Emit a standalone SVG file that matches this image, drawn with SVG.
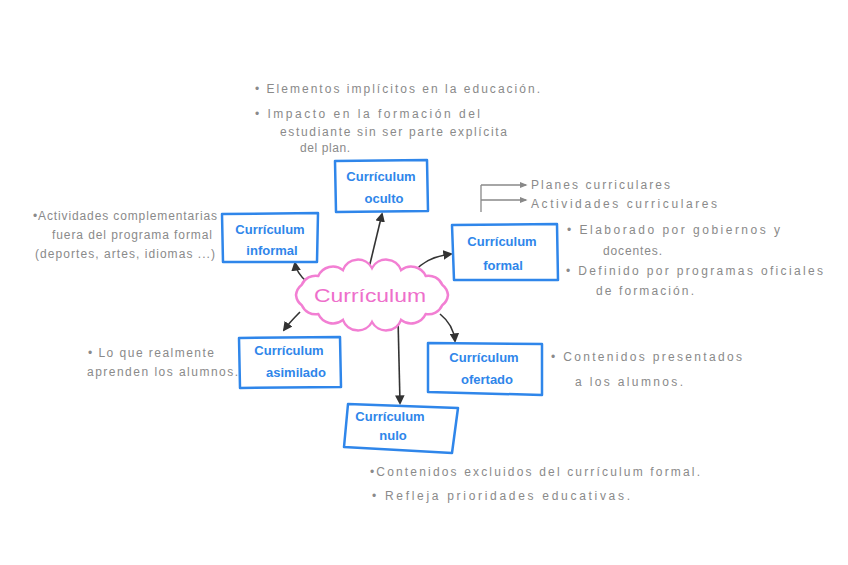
<svg xmlns="http://www.w3.org/2000/svg" width="848" height="565" viewBox="0 0 848 565">
<defs>
<marker id="ah" viewBox="0 0 10 10" refX="8" refY="5" markerWidth="6" markerHeight="6" orient="auto-start-reverse"><path d="M0,0 L10,5 L0,10 z" fill="#333"/></marker>
<marker id="ahg" viewBox="0 0 10 10" refX="8" refY="5" markerWidth="6" markerHeight="6" orient="auto"><path d="M0,1 L10,5 L0,9 z" fill="#888"/></marker>
<style>
.box{fill:#fff;stroke:#2f86ea;stroke-width:2.5;stroke-linejoin:round}
.lbl{font-family:"Liberation Sans",Arial,sans-serif;font-size:13px;font-weight:bold;fill:#2f86ea;text-anchor:middle}
.note{font-family:"Liberation Sans",Arial,sans-serif;font-size:12px;fill:#8a8a8a}
.con{fill:none;stroke:#333;stroke-width:1.6;marker-end:url(#ah)}
.br{fill:none;stroke:#888;stroke-width:1.3}
</style>
</defs>
<rect width="848" height="565" fill="#fff"/>

<g id="connectors">
<path class="con" d="M369,268 L382,214"/>
<path class="con" d="M307,282 C300,276 296,270 295,263"/>
<path class="con" d="M414,272 C422,262 435,256 451,254"/>
<path class="con" d="M300,312 C294,318 289,323 284,330"/>
<path class="con" d="M398,318 L400,403"/>
<path class="con" d="M440,314 C450,322 454,330 455,341"/>
<path class="br" d="M481,212 L481,185"/>
<path class="br" d="M481,185 L526,185" marker-end="url(#ahg)"/>
<path class="br" d="M481,200 L526,200" marker-end="url(#ahg)"/>
</g>

<g id="curriculum">
<path d="M296,295 A15,15 0 0 1 301.8,284.7 A15,15 0 0 1 318.3,275.9 A16,16 0 0 1 342.9,270.1 A16,16 0 0 1 372,268 A16,16 0 0 1 401.1,270.1 A16,16 0 0 1 425.7,275.9 A15,15 0 0 1 442.2,284.7 A15,15 0 0 1 448,295 A15,15 0 0 1 442.2,305.3 A15,15 0 0 1 425.7,314.1 A16,16 0 0 1 401.1,319.9 A16,16 0 0 1 372,322 A16,16 0 0 1 342.9,319.9 A16,16 0 0 1 318.3,314.1 A15,15 0 0 1 301.8,305.3 A15,15 0 0 1 296,295 Z" fill="#fff" stroke="#f27fd3" stroke-width="2.5"/>
<text x="370" y="302" font-family="Liberation Sans,Arial,sans-serif" font-size="19" fill="#ee6fcb" text-anchor="middle" textLength="112" lengthAdjust="spacingAndGlyphs">Currículum</text>
</g>

<g id="oculto">
<path class="box" d="M335,161 L427,160 L428,211 L336,212 Z"/>
<text class="lbl" x="381" y="181">Currículum</text>
<text class="lbl" x="384" y="203">oculto</text>
</g>

<g id="informal">
<path class="box" d="M222,214 L318,213 L317,262 L223,262 Z"/>
<text class="lbl" x="270" y="234">Currículum</text>
<text class="lbl" x="272" y="255">informal</text>
</g>

<g id="formal">
<path class="box" d="M452,225 L557,224 L558,280 L454,280 Z"/>
<text class="lbl" x="502" y="246">Currículum</text>
<text class="lbl" x="503" y="270">formal</text>
</g>

<g id="asimilado">
<path class="box" d="M239,338 L340,337 L341,387 L240,388 Z"/>
<text class="lbl" x="289" y="355">Currículum</text>
<text class="lbl" x="296" y="377">asimilado</text>
</g>

<g id="ofertado">
<path class="box" d="M428,343 L542,344 L542,395 L428,392 Z"/>
<text class="lbl" x="484" y="362">Currículum</text>
<text class="lbl" x="487" y="384">ofertado</text>
</g>

<g id="nulo">
<path class="box" d="M348,404 L458,408 L452,453 L344,447 Z"/>
<text class="lbl" x="390" y="421">Currículum</text>
<text class="lbl" x="393" y="440">nulo</text>
</g>

<g id="notes">
<text class="note" x="255" y="93" textLength="285" lengthAdjust="spacing">• Elementos implícitos en la educación.</text>
<text class="note" x="255" y="118" textLength="225" lengthAdjust="spacing">• Impacto en la formación del</text>
<text class="note" x="280" y="136" textLength="227" lengthAdjust="spacing">estudiante sin ser parte explícita</text>
<text class="note" x="300" y="152" textLength="50" lengthAdjust="spacing">del plan.</text>

<text class="note" x="33" y="220" textLength="184" lengthAdjust="spacing">•Actividades complementarias</text>
<text class="note" x="52" y="239" textLength="160" lengthAdjust="spacing">fuera del programa formal</text>
<text class="note" x="35" y="258" textLength="180" lengthAdjust="spacing">(deportes, artes, idiomas ...)</text>

<text class="note" x="531" y="189" font-size="13" textLength="139" lengthAdjust="spacing">Planes curriculares</text>
<text class="note" x="531" y="208" font-size="13" textLength="186" lengthAdjust="spacing">Actividades curriculares</text>

<text class="note" x="567" y="234" font-size="13" textLength="213" lengthAdjust="spacing">• Elaborado por gobiernos y</text>
<text class="note" x="603" y="255" textLength="59" lengthAdjust="spacing">docentes.</text>
<text class="note" x="566" y="275" font-size="13" textLength="257" lengthAdjust="spacing">• Definido por programas oficiales</text>
<text class="note" x="596" y="295" textLength="98" lengthAdjust="spacing">de formación.</text>

<text class="note" x="88" y="357" textLength="126" lengthAdjust="spacing">• Lo que realmente</text>
<text class="note" x="87" y="376" textLength="151" lengthAdjust="spacing">aprenden los alumnos.</text>

<text class="note" x="551" y="361" font-size="13" textLength="191" lengthAdjust="spacing">• Contenidos presentados</text>
<text class="note" x="575" y="386" textLength="108" lengthAdjust="spacing">a los alumnos.</text>

<text class="note" x="370" y="476" textLength="330" lengthAdjust="spacing">•Contenidos excluidos del currículum formal.</text>
<text class="note" x="372" y="500" textLength="258" lengthAdjust="spacing">• Refleja prioridades educativas.</text>
</g>
</svg>
